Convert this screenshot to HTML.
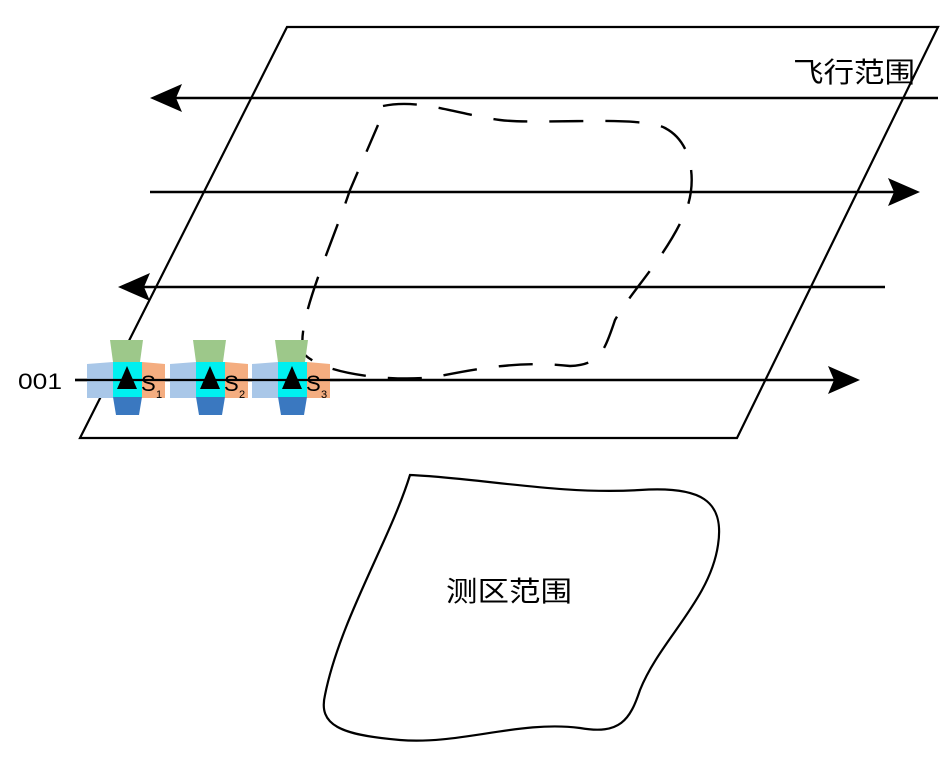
<!DOCTYPE html>
<html><head><meta charset="utf-8"><style>
html,body{margin:0;padding:0;background:#fff}
svg{display:block}
text{font-family:"Liberation Sans","Noto Sans CJK SC",sans-serif;fill:#000}
</style></head><body>
<svg width="943" height="768" viewBox="0 0 943 768" xmlns="http://www.w3.org/2000/svg">
<polygon points="287,27 938,27 737,438 80,438" fill="none" stroke="#000" stroke-width="2.2"/>
<path d="M383,106 C420,98 460,115 500,120 S640,115 665,128 C692,142 696,178 688,205 C672,250 632,290 615,320 C605,350 600,365 570,366 C520,360 470,370 440,376 S330,378 305,355 C292,330 330,250 350,190 L378,125" fill="none" stroke="#000" stroke-width="2.4" stroke-dasharray="34,22"/>
<g stroke="#000" stroke-width="2.6">
<line x1="938" y1="98" x2="175" y2="98"/>
<line x1="150" y1="192" x2="895" y2="192"/>
<line x1="885" y1="287" x2="142" y2="287"/>
<line x1="75" y1="380" x2="835" y2="380"/>
</g>
<polygon points="150,98 182,84 176,98 182,112" fill="#000"/>
<polygon points="920,192 888,178 894,192 888,206" fill="#000"/>
<polygon points="118,287 150,273 144,287 150,301" fill="#000"/>
<polygon points="860,380 828,366 834,380 828,394" fill="#000"/>
<text x="793" y="82" font-size="28" textLength="122" lengthAdjust="spacingAndGlyphs">飞行范围</text>
<text x="18" y="389" font-size="22" textLength="44" lengthAdjust="spacingAndGlyphs">001</text>
<g>
<g transform="translate(0,0)">
<polygon points="110,340 143,340 140,362 113,362" fill="#9dc88a"/>
<polygon points="87,364 113,362 113,398 87,398" fill="#a9c7e8"/>
<rect x="113" y="362" width="29" height="35" fill="#00f0f0"/>
<polygon points="142,362 165,364 165,398 142,398" fill="#f4ad80"/>
<polygon points="113,397 142,397 139,415 116,415" fill="#3a78c0"/>
<polygon points="127,366 117,389 137,389" fill="#000"/>
<text x="141" y="391" font-size="22">S</text><text x="156" y="398" font-size="11">1</text>
</g>
<g transform="translate(83,0)">
<polygon points="110,340 143,340 140,362 113,362" fill="#9dc88a"/>
<polygon points="87,364 113,362 113,398 87,398" fill="#a9c7e8"/>
<rect x="113" y="362" width="29" height="35" fill="#00f0f0"/>
<polygon points="142,362 165,364 165,398 142,398" fill="#f4ad80"/>
<polygon points="113,397 142,397 139,415 116,415" fill="#3a78c0"/>
<polygon points="127,366 117,389 137,389" fill="#000"/>
<text x="141" y="391" font-size="22">S</text><text x="156" y="398" font-size="11">2</text>
</g>
<g transform="translate(165,0)">
<polygon points="110,340 143,340 140,362 113,362" fill="#9dc88a"/>
<polygon points="87,364 113,362 113,398 87,398" fill="#a9c7e8"/>
<rect x="113" y="362" width="29" height="35" fill="#00f0f0"/>
<polygon points="142,362 165,364 165,398 142,398" fill="#f4ad80"/>
<polygon points="113,397 142,397 139,415 116,415" fill="#3a78c0"/>
<polygon points="127,366 117,389 137,389" fill="#000"/>
<text x="141" y="391" font-size="22">S</text><text x="156" y="398" font-size="11">3</text>
</g>
</g>
<line x1="75" y1="380" x2="340" y2="380" stroke="#000" stroke-width="2.2"/>
<path d="M410,475 C480,478 560,495 640,490 C700,486 725,500 718,545 C710,600 660,640 640,690 C630,720 620,735 580,728 C520,720 460,745 400,740 C340,735 318,725 325,695 C340,620 390,540 410,475 Z" fill="none" stroke="#000" stroke-width="2.2"/>
<text x="446" y="601" font-size="28" textLength="126" lengthAdjust="spacingAndGlyphs">测区范围</text>
</svg>
</body></html>
